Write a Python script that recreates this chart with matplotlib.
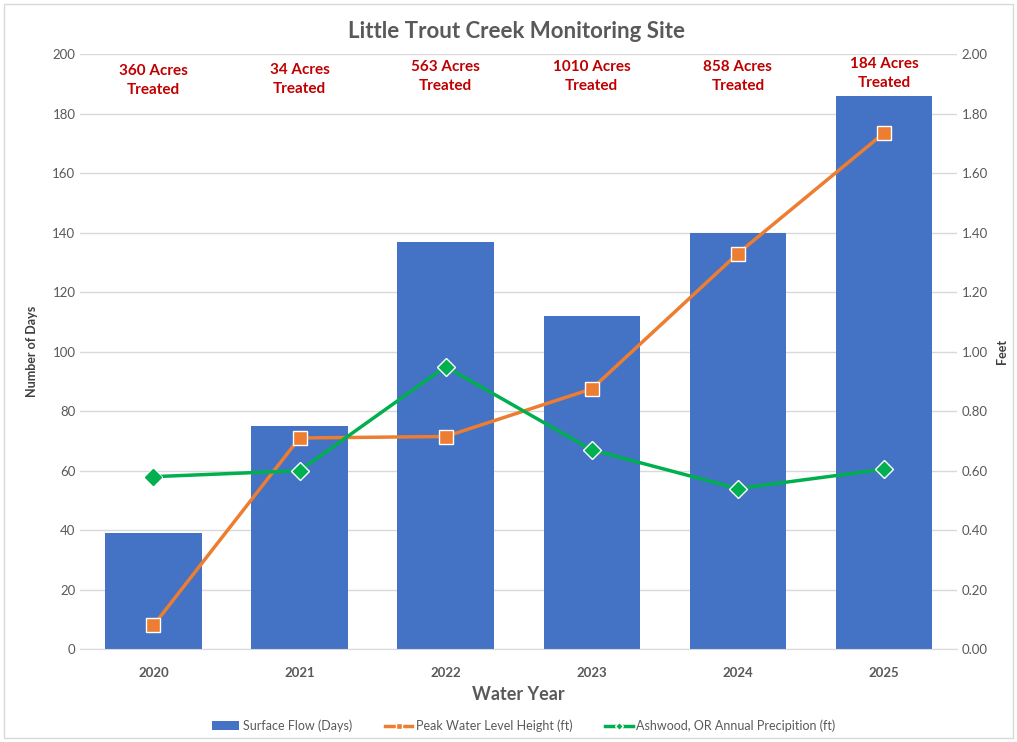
import numpy as np
import matplotlib
matplotlib.use("Agg")
import matplotlib.pyplot as plt
import matplotlib.patches as patch

plt.rcParams['font.family'] = ['Lato', 'DejaVu Sans']

# data
years = ['2020', '2021', '2022', '2023', '2024', '2025']
surface_flow = [39, 75, 137, 112, 140, 186]
peak_level = [0.08, 0.71, 0.715, 0.875, 1.33, 1.735]
precip = [0.58, 0.60, 0.95, 0.67, 0.54, 0.605]
acres = ['360 Acres\nTreated', '34 Acres\nTreated', '563 Acres\nTreated',
         '1010 Acres\nTreated', '858 Acres\nTreated', '184 Acres\nTreated']
acres_y = [191, 191.5, 192.5, 192.5, 192.5, 193.5]

grey = '#595959'
x = np.arange(len(years))

fig = plt.figure(figsize=(10.17, 7.42), dpi=100)
ax = fig.add_axes([0.079, 0.125, 0.862, 0.802])
ax2 = ax.twinx()

ax.bar(x, surface_flow, width=0.66, color='#4472C4', zorder=2,
       label='Surface Flow (Days)')
ax2.plot(x, peak_level, color='#ED7D31', lw=2.5, marker='s', ms=10,
         mec='white', mew=1, label='Peak Water Level Height (ft)', zorder=3)
ax2.plot(x, precip, color='#00B050', lw=2.5, marker='D', ms=9,
         mec='white', mew=1, label='Ashwood, OR Annual Precipition (ft)', zorder=3)
# first green marker has no white outline
ax2.plot(x[0], precip[0], marker='D', ms=8, color='#00B050', mec='#00B050', zorder=4)

ax.set_xlim(-0.5, 5.5)
ax.set_ylim(0, 200)
ax2.set_ylim(0, 2)
ax.set_yticks(np.arange(0, 201, 20))
ax2.set_yticks(np.arange(0, 2.01, 0.2))
ax2.set_yticklabels(['%.2f' % v for v in np.arange(0, 2.01, 0.2)])
ax.set_xticks(x)
ax.set_xticklabels(years, fontweight='bold', fontsize=10.5, color=grey)
ax.grid(axis='y', color='#d9d9d9', lw=1, zorder=0)
ax.set_axisbelow(True)

for a in (ax, ax2):
    for s in a.spines.values():
        s.set_visible(False)
    a.tick_params(length=0, labelsize=9.5, labelcolor=grey)
ax.tick_params(axis='x', pad=13)
ax.spines['bottom'].set_visible(True)
ax.spines['bottom'].set_color('#d9d9d9')

ax.set_ylabel('Number of Days', fontsize=9, fontweight='bold', color='#404040', labelpad=10)
ax2.set_ylabel('Feet', fontsize=9, fontweight='bold', color='#404040', labelpad=6)
ax.set_xlabel('Water Year', fontsize=13, fontweight='bold', color=grey, labelpad=5)

for i, t in enumerate(acres):
    ax.text(x[i], acres_y[i], t, ha='center', va='center', color='#C00000',
            fontsize=11, fontweight='bold', linespacing=1.45)

fig.text(0.508, 0.958, 'Little Trout Creek Monitoring Site', ha='center', va='center',
         fontsize=16, fontweight='bold', color=grey)

h1, l1 = ax.get_legend_handles_labels()
h2, l2 = ax2.get_legend_handles_labels()
fig.legend(h1 + h2[:2], l1 + l2[:2], loc='center', bbox_to_anchor=(0.515, 0.022),
           ncol=3, frameon=False, fontsize=9, labelcolor=grey,
           handlelength=2.2, handletextpad=0.3, columnspacing=2.6, markerscale=0.5)

fig.patches.append(patch.Rectangle((0.004, 0.005), 0.992, 0.99, transform=fig.transFigure,
                                   fill=False, ec='#d9d9d9', lw=1))

fig.savefig('out.png', dpi=100, facecolor='white')
